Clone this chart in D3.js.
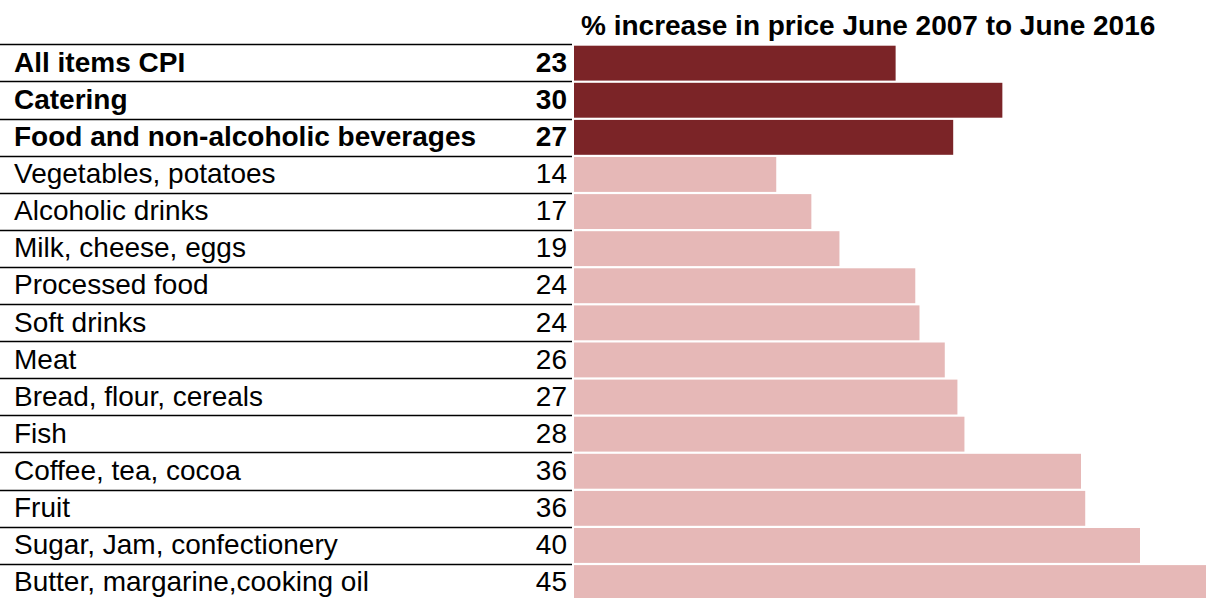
<!DOCTYPE html>
<html>
<head>
<meta charset="utf-8">
<script src="https://cdn.jsdelivr.net/npm/d3@7"></script>
<style>
  html, body { margin: 0; padding: 0; background: #fff; }
  svg { display: block; }
  text { font-family: "Liberation Sans", Arial, sans-serif; fill: #000; }
</style>
</head>
<body>
<svg id="chart" width="1206" height="598"></svg>
<script>
const title = "% increase in price June 2007 to June 2016";
const categories = [
  "All items CPI",
  "Catering",
  "Food and non-alcoholic beverages",
  "Vegetables, potatoes",
  "Alcoholic drinks",
  "Milk, cheese, eggs",
  "Processed food",
  "Soft drinks",
  "Meat",
  "Bread, flour, cereals",
  "Fish",
  "Coffee, tea, cocoa",
  "Fruit",
  "Sugar, Jam, confectionery",
  "Butter, margarine,cooking oil"
];
const values = [22.9, 30.5, 27.0, 14.4, 16.9, 18.9, 24.3, 24.6, 26.4, 27.3, 27.8, 36.1, 36.4, 40.3, 45.0];
const valueLabels = ["23", "30", "27", "14", "17", "19", "24", "24", "26", "27", "28", "36", "36", "40", "45"];
const highlighted = ["All items CPI", "Catering", "Food and non-alcoholic beverages"];

const svg = d3.select("#chart");
const W = 1206;

const x = d3.scaleLinear().domain([0, 45]).range([574, W]);
const rowStep = 37.1;
const rowsTop = 44.3;
const y = d3.scaleBand().domain(categories).range([rowsTop, rowsTop + categories.length * rowStep]).padding(0);

const data = categories.map((c, i) => ({ c, v: values[i], lab: valueLabels[i], hi: highlighted.includes(c) }));

// title
svg.append("text")
  .attr("x", 581)
  .attr("y", 34.5)
  .attr("font-size", 28)
  .attr("font-weight", "bold")
  .text(title);

// separator lines
svg.append("g").selectAll("line").data(data).join("line")
  .attr("x1", 0).attr("x2", 572)
  .attr("y1", d => Math.round(y(d.c)) + 0.5)
  .attr("y2", d => Math.round(y(d.c)) + 0.5)
  .attr("stroke", "#000")
  .attr("stroke-width", 1.3);

// bars
svg.append("g").selectAll("rect").data(data).join("rect")
  .attr("x", x(0))
  .attr("y", d => y(d.c) + 1.4)
  .attr("width", d => x(d.v) - x(0))
  .attr("height", y.bandwidth() - 2.2)
  .attr("fill", d => d.hi ? "#7b2427" : "#e6b8b7");

// category labels
svg.append("g").selectAll("text").data(data).join("text")
  .attr("x", 14)
  .attr("y", d => y(d.c) + 27.5)
  .attr("font-size", 28)
  .attr("font-weight", d => d.hi ? "bold" : "normal")
  .text(d => d.c);

// value labels
svg.append("g").selectAll("text").data(data).join("text")
  .attr("x", 567)
  .attr("y", d => y(d.c) + 27.5)
  .attr("text-anchor", "end")
  .attr("font-size", 28)
  .attr("font-weight", d => d.hi ? "bold" : "normal")
  .text(d => d.lab);
</script>
</body>
</html>
